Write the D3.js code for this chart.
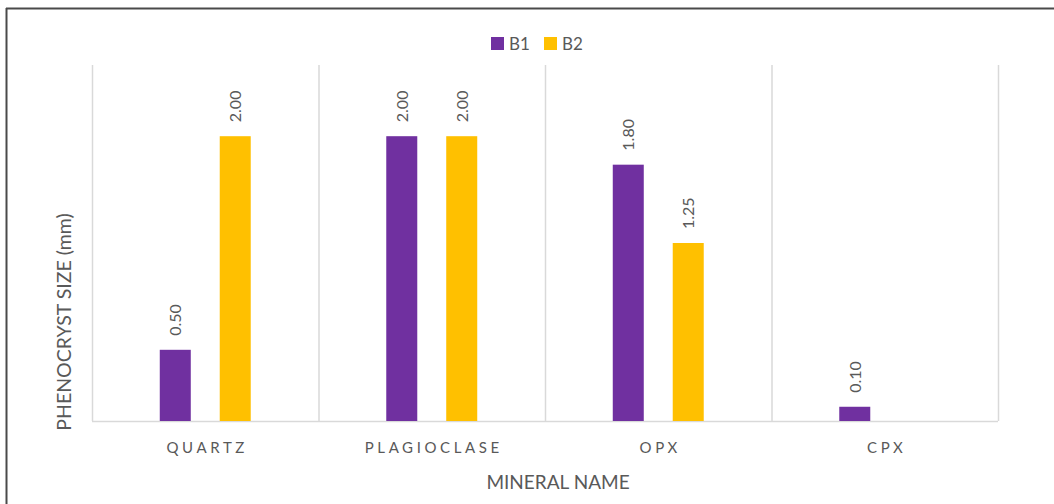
<!DOCTYPE html>
<html><head><meta charset="utf-8">
<script src="https://cdn.jsdelivr.net/npm/d3@7"></script>
<style>html,body{margin:0;padding:0;background:#fff;}svg{display:block;}</style>
</head><body>
<script>
const categories = ["QUARTZ", "PLAGIOCLASE", "OPX", "CPX"];
const seriesNames = ["B1", "B2"];
const b1Values = [0.50, 2.00, 1.80, 0.10];
const b2Values = [2.00, 2.00, 1.25, null];
const seriesColors = ["#7030A0", "#FFC000"];
const yDomain = [0, 2.5];

(function () {
const W = 1054, H = 504;
const font = "Lato, 'Open Sans', sans-serif";
const svg = d3.select("body").append("svg").attr("width", W).attr("height", H);

// border (dark on top/left)
svg.append("line").attr("x1", 6.5).attr("x2", 6.5).attr("y1", 8).attr("y2", H).attr("stroke", "#4a4a4a").attr("stroke-width", 2);
svg.append("line").attr("x1", 6).attr("x2", W).attr("y1", 8.5).attr("y2", 8.5).attr("stroke", "#4a4a4a").attr("stroke-width", 2);

const pL = 92, pR = 998, pT = 65, pB = 421;
const x0 = d3.scaleBand().domain(categories).range([pL, pR]).padding(0);
const x1 = d3.scaleBand().domain(seriesNames).range([0, x0.bandwidth()]).paddingInner(0.483).paddingOuter(1.13);
const y = d3.scaleLinear().domain(yDomain).range([pB, pT]);

// vertical gridlines at category boundaries
const bounds = categories.map(c => x0(c)).concat([pR]);
svg.append("g").selectAll("line").data(bounds).join("line")
  .attr("x1", d => d + 0.5).attr("x2", d => d + 0.5)
  .attr("y1", pT).attr("y2", pB)
  .attr("stroke", "#d9d9d9").attr("stroke-width", 1.5);

// baseline
svg.append("line").attr("x1", pL).attr("x2", pR).attr("y1", pB + 0.5).attr("y2", pB + 0.5)
  .attr("stroke", "#d9d9d9").attr("stroke-width", 1.5);

const data = [];
categories.forEach((c, i) => {
  [b1Values, b2Values].forEach((vals, s) => {
    if (vals[i] != null) data.push({cat: c, series: seriesNames[s], value: vals[i], color: seriesColors[s]});
  });
});

svg.append("g").selectAll("rect").data(data).join("rect")
  .attr("x", d => x0(d.cat) + x1(d.series))
  .attr("width", x1.bandwidth())
  .attr("y", d => y(d.value))
  .attr("height", d => y(0) - y(d.value))
  .attr("fill", d => d.color);

// value labels rotated
svg.append("g").selectAll("text").data(data).join("text")
  .attr("transform", d => `translate(${x0(d.cat) + x1(d.series) + x1.bandwidth() / 2 + 6},${y(d.value) - 14}) rotate(-90)`)
  .attr("text-anchor", "start")
  .attr("font-family", font).attr("font-size", 16).attr("fill", "#595959")
  .text(d => d3.format(".2f")(d.value));

// category labels
svg.append("g").selectAll("text").data(categories).join("text")
  .attr("x", d => x0(d) + x0.bandwidth() / 2 + 2)
  .attr("y", 453)
  .attr("text-anchor", "middle")
  .attr("font-family", font).attr("font-size", 15).attr("fill", "#595959")
  .attr("letter-spacing", "3.6px")
  .text(d => d);

// x title
svg.append("text").attr("x", 558).attr("y", 489).attr("text-anchor", "middle")
  .attr("font-family", font).attr("font-size", 19).attr("fill", "#595959")
  .text("MINERAL NAME");

// y title
svg.append("text").attr("transform", "translate(71,322) rotate(-90)").attr("text-anchor", "middle")
  .attr("font-family", font).attr("font-size", 19.5).attr("fill", "#595959")
  .text("PHENOCRYST SIZE (mm)");

// legend
const legX = [491, 544];
const lg = svg.append("g").selectAll("g").data(seriesNames).join("g")
  .attr("transform", (d, i) => `translate(${legX[i]},37)`);
lg.append("rect").attr("width", 13).attr("height", 13).attr("fill", (d, i) => seriesColors[i]);
lg.append("text").attr("x", 18).attr("y", 13)
  .attr("font-family", font).attr("font-size", 17).attr("fill", "#595959")
  .text(d => d);
})();
</script>
</body></html>
